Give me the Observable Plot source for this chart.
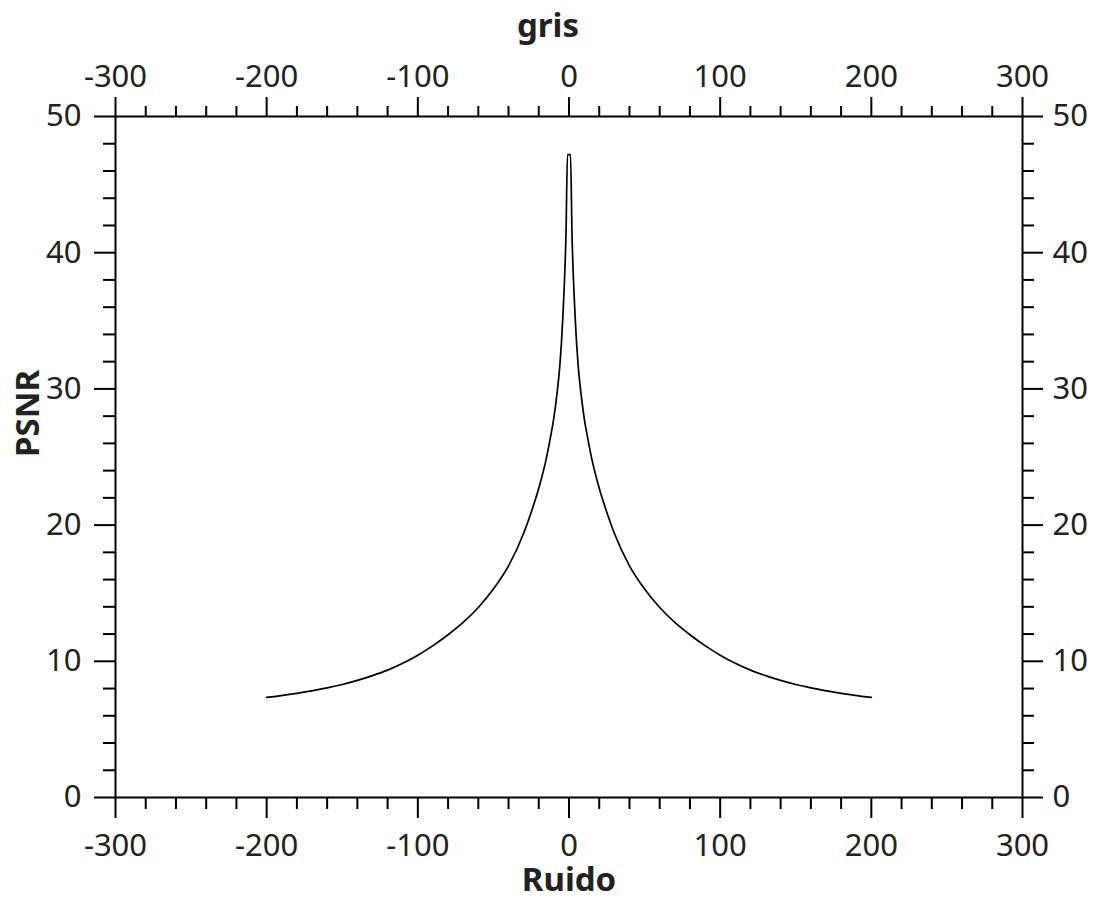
<!DOCTYPE html>
<html>
<head>
<meta charset="utf-8">
<script src="https://cdn.jsdelivr.net/npm/d3@7"></script>
<script src="https://cdn.jsdelivr.net/npm/@observablehq/plot@0.6"></script>
<style>
  html, body { margin: 0; padding: 0; background: #fff; }
  #chart svg { display: block; overflow: visible; }
</style>
</head>
<body>
<div id="chart"></div>
<script>
// Data
const ruido = [-200, -180, -160, -150, -140, -130, -120, -110, -100, -90, -80, -70, -60, -50, -40, -30, -25, -20, -15, -12, -10, -8, -6, -5, -4, -3, -2, -1,
               1, 2, 3, 4, 5, 6, 8, 10, 12, 15, 20, 25, 30, 40, 50, 60, 70, 80, 90, 100, 110, 120, 130, 140, 150, 160, 180, 200];
const psnr  = [7.35, 7.65, 8.05, 8.3, 8.6, 8.95, 9.35, 9.85, 10.45, 11.15, 11.95, 12.85, 13.95, 15.3, 17.0, 19.4, 20.95, 22.7, 24.9, 26.6, 27.9, 29.6, 31.8, 33.4, 35.4, 37.9, 41.3, 47.2,
               47.2, 41.3, 37.9, 35.4, 33.4, 31.8, 29.6, 27.9, 26.6, 24.9, 22.7, 20.95, 19.4, 17.0, 15.3, 13.95, 12.85, 11.95, 11.15, 10.45, 9.85, 9.35, 8.95, 8.6, 8.3, 8.05, 7.65, 7.35];

const xMajorTicks = [-300, -200, -100, 0, 100, 200, 300];
const xMinorTicks = [-280, -260, -240, -220, -180, -160, -140, -120, -80, -60, -40, -20,
                     20, 40, 60, 80, 120, 140, 160, 180, 220, 240, 260, 280];
const yMajorTicks = [0, 10, 20, 30, 40, 50];
const yMinorTicks = [2, 4, 6, 8, 12, 14, 16, 18, 22, 24, 26, 28, 32, 34, 36, 38, 42, 44, 46, 48];

const xTitleBottom = "Ruido";
const xTitleTop = "gris";
const yTitle = "PSNR";

const data = ruido.map((r, i) => ({ruido: r, psnr: psnr[i]}));
const fmt = d => String(d);
const ink = "#000";
const textInk = "#222";

const chart = Plot.plot({
  width: 1095,
  height: 900,
  marginLeft: 115,
  marginRight: 73,
  marginTop: 116,
  marginBottom: 103,
  style: {fontFamily: "'Noto Sans', 'Open Sans', sans-serif", fontSize: "31px", color: textInk, background: "#fff"},
  x: {domain: [-300, 300]},
  y: {domain: [0, 50]},
  marks: [
    // major ticks
    Plot.axisX({anchor: "bottom", ticks: xMajorTicks, tickSize: 21, tickPadding: 15, tickFormat: fmt, label: null, stroke: ink, strokeWidth: 2, fill: textInk}),
    Plot.axisX({anchor: "top", ticks: xMajorTicks, tickSize: 20, tickPadding: 10, tickFormat: fmt, label: null, stroke: ink, strokeWidth: 2, fill: textInk}),
    Plot.axisY({anchor: "left", ticks: yMajorTicks, tickSize: 21, tickPadding: 13, tickFormat: fmt, label: null, stroke: ink, strokeWidth: 2, fill: textInk}),
    Plot.axisY({anchor: "right", ticks: yMajorTicks, tickSize: 20, tickPadding: 10, tickFormat: fmt, label: null, stroke: ink, strokeWidth: 2, fill: textInk}),
    // minor ticks
    Plot.axisX({anchor: "bottom", ticks: xMinorTicks, tickSize: 12, tickFormat: () => "", label: null, stroke: ink, strokeWidth: 2}),
    Plot.axisX({anchor: "top", ticks: xMinorTicks, tickSize: 11, tickFormat: () => "", label: null, stroke: ink, strokeWidth: 2}),
    Plot.axisY({anchor: "left", ticks: yMinorTicks, tickSize: 12, tickFormat: () => "", label: null, stroke: ink, strokeWidth: 2}),
    Plot.axisY({anchor: "right", ticks: yMinorTicks, tickSize: 11, tickFormat: () => "", label: null, stroke: ink, strokeWidth: 2}),
    Plot.frame({stroke: ink, strokeWidth: 2}),
    // curve
    Plot.line(data, {x: "ruido", y: "psnr", stroke: ink, strokeWidth: 1.7, curve: "monotone-x"}),
    // axis titles
    Plot.text([xTitleTop], {text: d => d, frameAnchor: "top", lineAnchor: "middle", dx: -21, dy: -90, fontWeight: "bold", fontSize: 33, fill: textInk}),
    Plot.text([xTitleBottom], {text: d => d, frameAnchor: "bottom", lineAnchor: "middle", dy: 83, fontWeight: "bold", fontSize: 33, fill: textInk}),
    Plot.text([yTitle], {text: d => d, frameAnchor: "left", lineAnchor: "middle", rotate: -90, dx: -87, fontWeight: "bold", fontSize: 33, fill: textInk})
  ]
});
document.getElementById("chart").appendChild(chart);
</script>
</body>
</html>
